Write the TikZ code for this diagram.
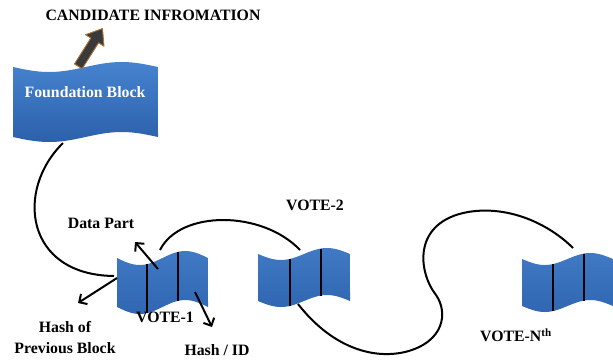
\documentclass[tikz,border=0pt]{standalone}
\usepackage{fontspec}
\setmainfont{Liberation Serif}
\usetikzlibrary{arrows.meta,calc}
\definecolor{blocktop}{HTML}{4683CF}
\definecolor{blockbot}{HTML}{2C60AA}
\definecolor{votetop}{HTML}{4079C4}
\definecolor{votebot}{HTML}{3066B2}
\definecolor{bigarrow}{HTML}{3A3A3A}
\definecolor{bigedge}{HTML}{B0763A}
% x0, y0, W, H, amplitude
\newcommand\wavepath[5]{plot[domain=0:1,samples=41,smooth] ({#1+#3*\x},{#2+#5*sin(360*\x)}) -- plot[domain=1:0,samples=41,smooth] ({#1+#3*\x},{#2+#4+#5*sin(360*\x)}) -- cycle}
\begin{document}
\begin{tikzpicture}[x=1pt,y=-1pt,
  lbl/.style={font=\bfseries\fontsize{15.8}{18}\selectfont, inner sep=0pt},
  conn/.style={line width=2pt, black},
  ptr/.style={line width=2pt, black, -{Straight Barb[length=6pt,width=12pt]}},
  divider/.style={line width=1.8pt, black},
  area/.style={inner sep=0pt, draw=none}]
\useasboundingbox (0,0) rectangle (613,360);

% ---- blocks (wave shapes) ----
\shade[top color=blocktop, bottom color=blockbot] \wavepath{13}{67}{145}{70}{5};
\node[area, lbl, text=white, minimum width=145pt, minimum height=70pt] (F) at (85,92) {Foundation Block};

\shade[top color=votetop, bottom color=votebot] \wavepath{117}{258}{91}{49}{7};
\node[area, minimum width=91pt, minimum height=49pt] (v1) at (162.5,282.5) {};
\draw[divider] (147,{258+7*sin(360*0.33)}) -- (147,{307+7*sin(360*0.33)});
\draw[divider] (178,{258+7*sin(360*0.67)}) -- (178,{307+7*sin(360*0.67)});

\shade[top color=votetop, bottom color=votebot] \wavepath{258}{254}{92}{47}{6};
\node[area, minimum width=92pt, minimum height=47pt] (v2) at (304,277.5) {};
\draw[divider] (290,{254+6*sin(360*0.348)}) -- (290,{301+6*sin(360*0.348)});
\draw[divider] (321,{254+6*sin(360*0.685)}) -- (321,{301+6*sin(360*0.685)});

\shade[top color=votetop, bottom color=votebot] \wavepath{522}{259}{91}{47}{6};
\node[area, minimum width=91pt, minimum height=47pt] (vN) at (567.5,282.5) {};
\draw[divider] (553,{259+6*sin(360*0.34)}) -- (553,{306+6*sin(360*0.34)});
\draw[divider] (584,{259+6*sin(360*0.68)}) -- (584,{306+6*sin(360*0.68)});

% ---- labels ----
\node[lbl] (cand) at (153,15) {CANDIDATE INFROMATION};
\node[lbl] (data) at (101,223) {Data Part};
\node[lbl] (vote1) at (165,317) {VOTE-1};
\node[lbl] (hashof) at (65,327) {Hash of};
\node[lbl] (prev) at (65,348) {Previous Block};
\node[lbl] (hashid) at (217,350) {Hash / ID};
\node[lbl] (vote2) at (315,205) {VOTE-2};
\node[lbl, anchor=west] (voteN) at (480,335) {VOTE-N\textsuperscript{th}};

% ---- connection points ----
\coordinate (F-bot) at (63,143);
\coordinate (v1-left) at (114,276);
\coordinate (v1-top) at (160,250);
\coordinate (v2-top) at (300,250);
\coordinate (v2-bot) at (298,304);
\coordinate (vN-top) at (573,248);
\coordinate (v1-data) at (158,269);
\coordinate (v1-prev) at (117,278);
\coordinate (v1-hash) at (195,292);
\coordinate (data-tip) at (135,242);
\coordinate (prev-tip) at (78,303);
\coordinate (hash-tip) at (212,327);

% ---- chain connectors ----
\draw[conn] (F-bot) .. controls (15,190) and (25,275) .. (v1-left);
\draw[conn] (v1-top) .. controls (180,210) and (262,210) .. (v2-top);
\draw[conn] (v2-bot) .. controls (330,345) and (370,360) .. (405,352)
  .. controls (445,342) and (448,312) .. (436,295)
  .. controls (418,272) and (412,222) .. (468,212)
  .. controls (510,205) and (550,225) .. (vN-top);

% ---- pointers ----
\draw[ptr] (v1-data) -- (data-tip);
\draw[ptr] (v1-prev) -- (prev-tip);
\draw[ptr] (v1-hash) -- (hash-tip);

% ---- big arrow (towards the candidate information) ----
\filldraw[fill=bigarrow, draw=bigedge, line width=0.9pt, line join=round]
  (82.2,68.7) -- (98.6,42.8) -- (104.0,46.3) -- (102.5,28.5)
  -- (85.5,34.7) -- (90.8,38.1) -- (74.4,64.0) -- cycle;
\end{tikzpicture}
\end{document}
